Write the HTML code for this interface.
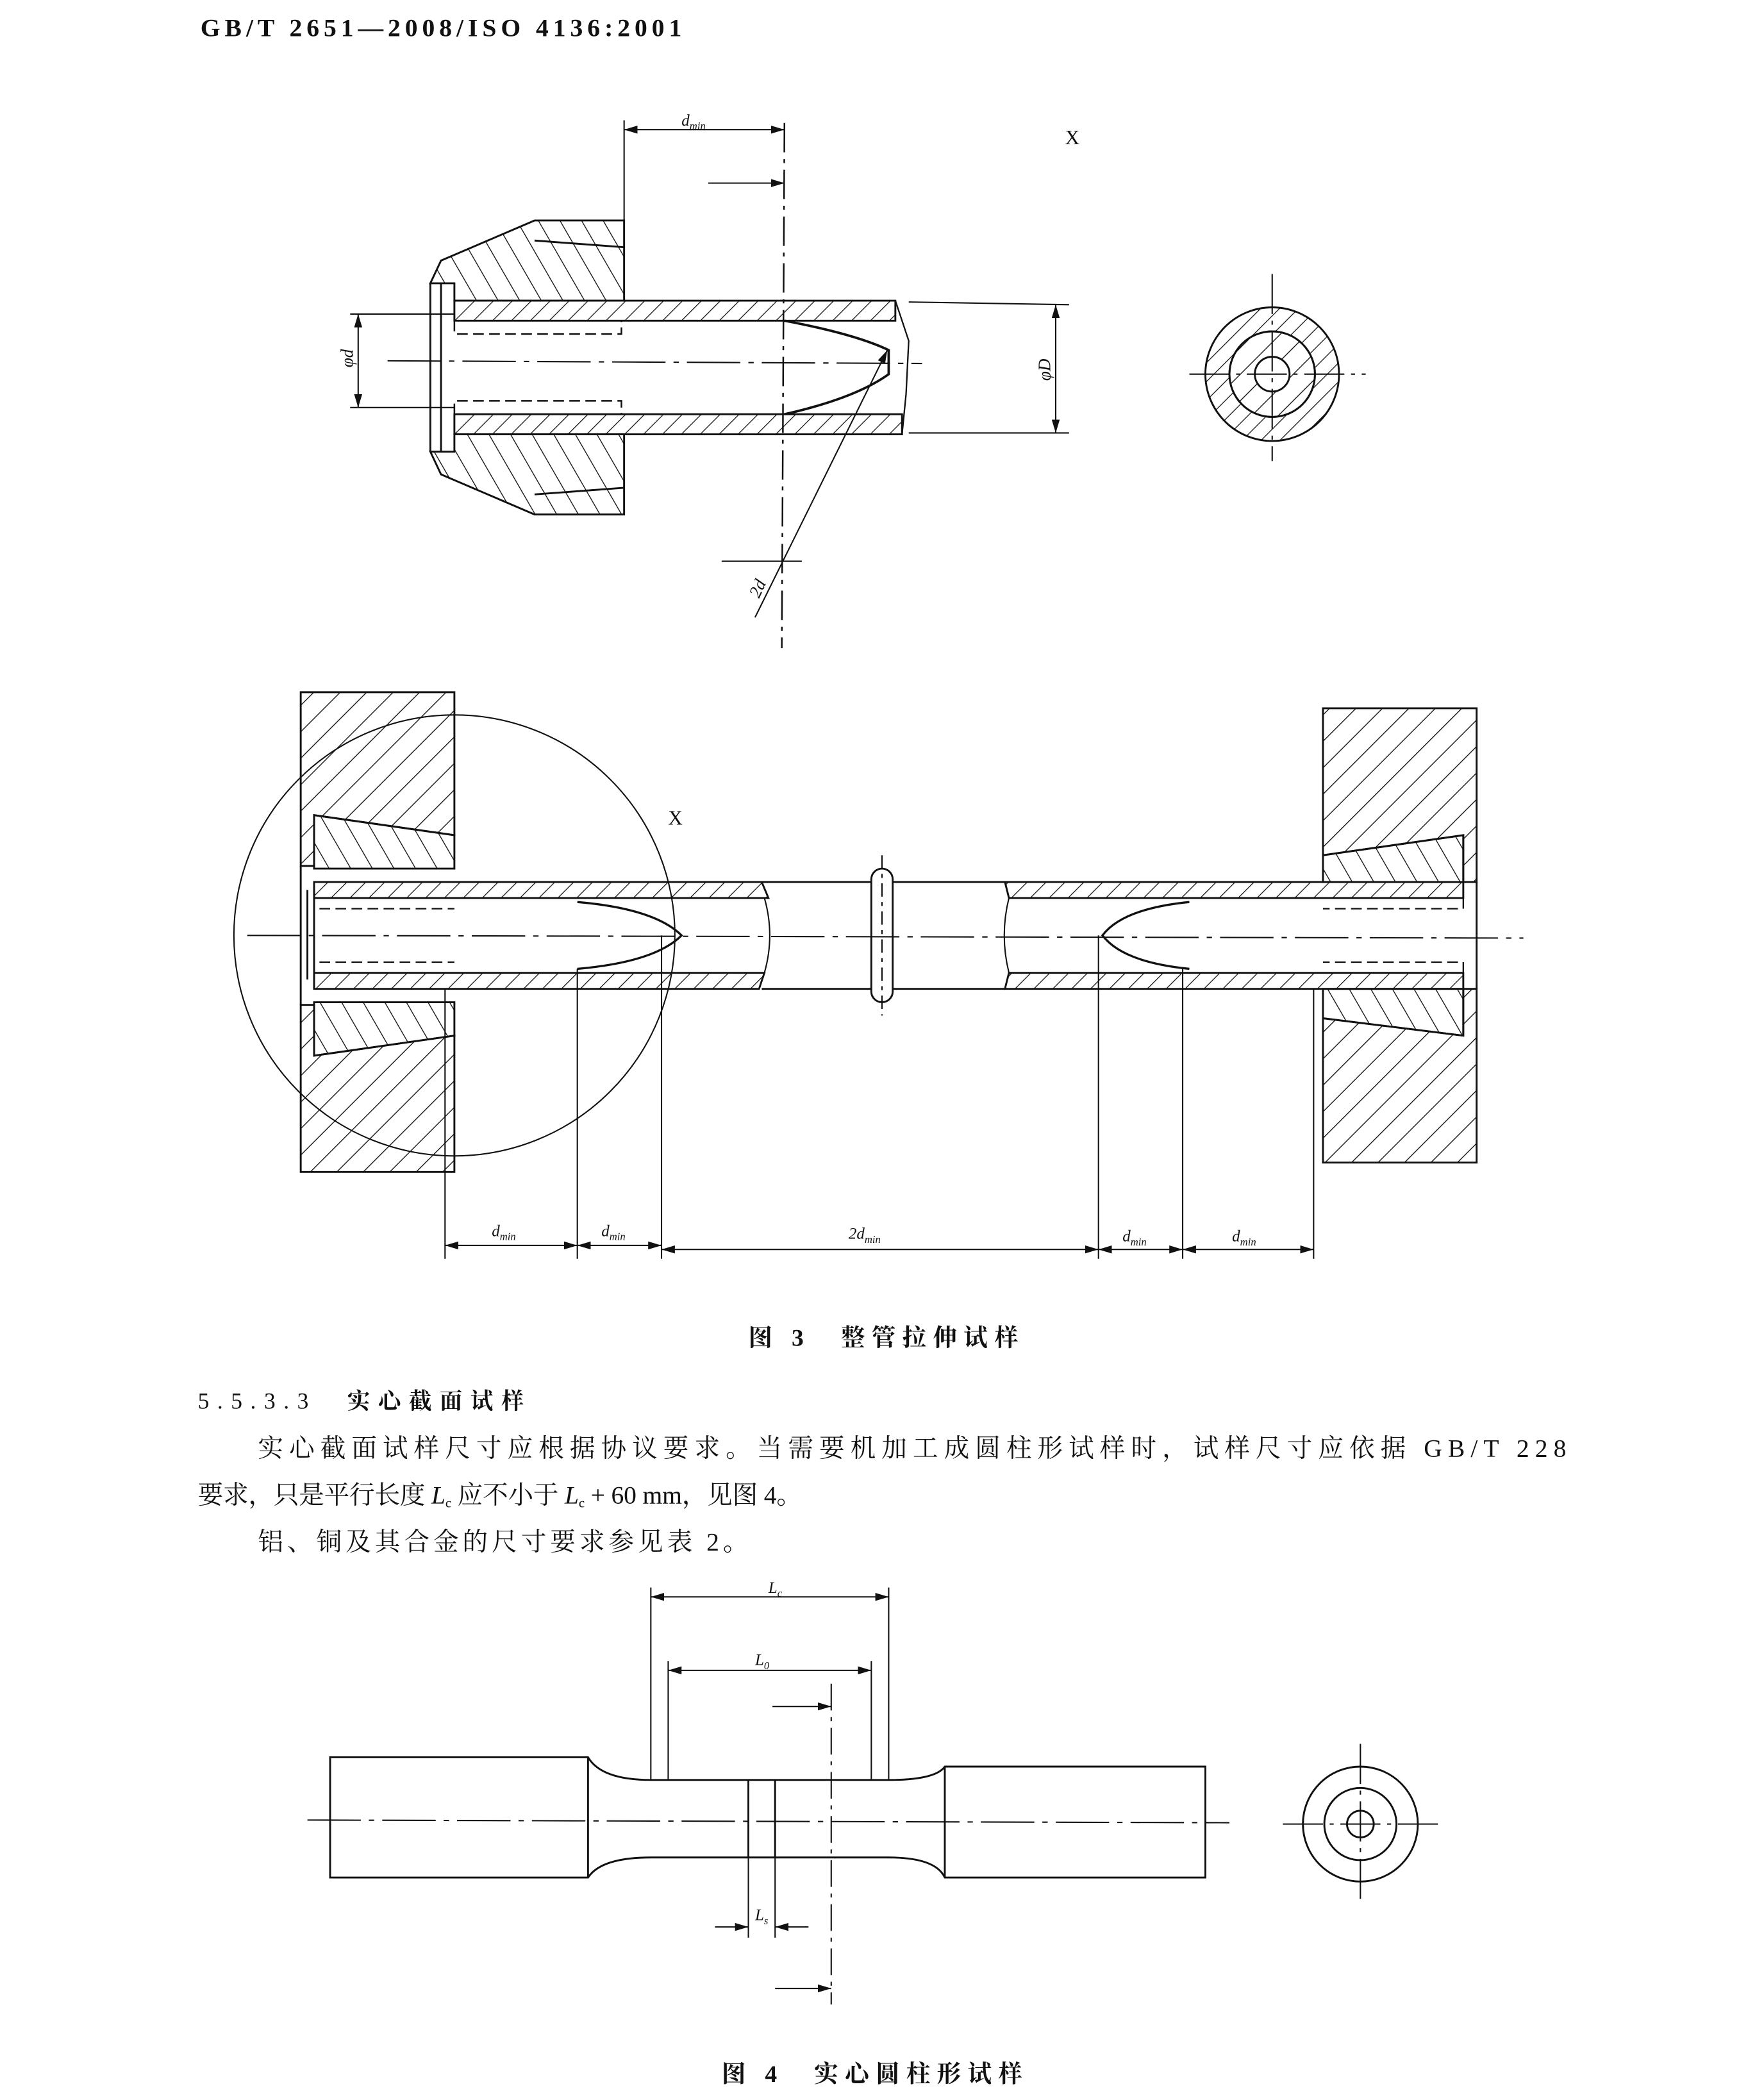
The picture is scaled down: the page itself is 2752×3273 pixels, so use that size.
<!DOCTYPE html>
<html><head><meta charset="utf-8"><style>
html,body{margin:0;padding:0;background:#fff}
svg{display:block}
text{font-family:"Liberation Serif","Noto Serif CJK SC",serif;fill:#111}
.cj{font-family:"Liberation Serif","Noto Serif CJK SC",serif}
</style></head><body>
<svg width="2752" height="3273" viewBox="0 0 1320 1570" xmlns="http://www.w3.org/2000/svg">
<defs>
<pattern id="h" width="14" height="14" patternUnits="userSpaceOnUse" patternTransform="rotate(45)">
<line x1="0" y1="0" x2="0" y2="14" stroke="#111" stroke-width="1.3"/></pattern>
<pattern id="h2" width="14" height="14" patternUnits="userSpaceOnUse" patternTransform="rotate(-30)">
<line x1="0" y1="0" x2="0" y2="14" stroke="#111" stroke-width="1.3"/></pattern>
<pattern id="h3" width="10" height="10" patternUnits="userSpaceOnUse" patternTransform="rotate(45)">
<line x1="0" y1="0" x2="0" y2="10" stroke="#111" stroke-width="1.2"/></pattern>
<marker id="a" viewBox="0 0 10 6" refX="10" refY="3" markerWidth="10" markerHeight="6" orient="auto-start-reverse" markerUnits="userSpaceOnUse"><path d="M0,0L10,3L0,6z" fill="#111"/></marker>
</defs>
<g fill="none" stroke="#111" stroke-width="1.4">
<text x="150" y="27" font-size="19" font-weight="bold" stroke="none" textLength="360" lengthAdjust="spacing">GB/T 2651—2008/ISO 4136:2001</text>

<!-- Detail X -->
<line x1="467" y1="90" x2="467" y2="165" stroke-width="1"/>
<line x1="467" y1="97" x2="587" y2="97" stroke-width="1" marker-start="url(#a)" marker-end="url(#a)"/>
<text x="510" y="94" font-size="12" font-style="italic" stroke="none">d<tspan font-size="8" dy="3">min</tspan></text>
<text x="797" y="108" font-size="15" stroke="none">X</text>
<line x1="530" y1="137" x2="587" y2="137" stroke-width="1" marker-end="url(#a)"/>
<line x1="587" y1="92" x2="585" y2="485" stroke-width="1.2" stroke-dasharray="22,5,3,5"/>
<path d="M400,165 L467,165 L467,225 L340,225 L340,212 L322,212 L330,195 Z" fill="url(#h2)"/>
<path d="M400,385 L467,385 L467,325 L340,325 L340,338 L322,338 L330,355 Z" fill="url(#h2)"/>
<line x1="400" y1="180" x2="467" y2="185"/><line x1="400" y1="370" x2="467" y2="365"/>
<path d="M322,212 L322,338 M330,212 L330,338"/>
<path d="M340,225 L670,225 L670,240 L340,240 Z" fill="url(#h3)"/>
<path d="M340,310 L675,310 L675,325 L340,325 Z" fill="url(#h3)"/>
<path d="M670,225 L680,255 L678,295 L675,325" stroke-width="1.1"/>
<path d="M340,240 V250 H465 V240 M340,310 V300 H465 V310" stroke-dasharray="8,4" stroke-width="1.2"/>
<path d="M587,240 Q640,250 665,262 L665,280 Q640,298 587,310" stroke-width="1.8"/>
<line x1="290" y1="270" x2="690" y2="272" stroke-width="1" stroke-dasharray="40,6,4,6"/>
<line x1="262" y1="235" x2="340" y2="235" stroke-width="1"/><line x1="262" y1="305" x2="340" y2="305" stroke-width="1"/>
<line x1="268" y1="235" x2="268" y2="305" stroke-width="1" marker-start="url(#a)" marker-end="url(#a)"/>
<text transform="translate(264,275) rotate(-90)" font-size="13" font-style="italic" stroke="none">φd</text>
<line x1="680" y1="226" x2="800" y2="228" stroke-width="1"/><line x1="680" y1="324" x2="800" y2="324" stroke-width="1"/>
<line x1="790" y1="228" x2="790" y2="324" stroke-width="1" marker-start="url(#a)" marker-end="url(#a)"/>
<text transform="translate(786,285) rotate(-90)" font-size="13" font-style="italic" stroke="none">φD</text>
<line x1="565" y1="462" x2="664" y2="262" stroke-width="1" marker-end="url(#a)"/>
<line x1="540" y1="420" x2="600" y2="420" stroke-width="1"/>
<text transform="translate(568,448) rotate(-65)" font-size="13" font-style="italic" stroke="none">2d</text>
<circle cx="952" cy="280" r="50" fill="url(#h3)"/>
<circle cx="952" cy="280" r="32" fill="#fff"/>
<circle cx="952" cy="280" r="32" fill="url(#h)"/>
<circle cx="952" cy="280" r="13" fill="#fff"/>
<line x1="890" y1="280" x2="1022" y2="280" stroke-width="1" stroke-dasharray="30,5,3,5"/>
<line x1="952" y1="205" x2="952" y2="345" stroke-width="1" stroke-dasharray="30,5,3,5"/>

<!-- Figure 3 main -->
<path d="M225,518 L340,518 L340,625 L235,610 L235,648 L225,648 Z" fill="url(#h)"/>
<path d="M235,610 L340,625 L340,650 L235,650 Z" fill="url(#h2)"/>
<path d="M225,877 L340,877 L340,775 L235,790 L235,752 L225,752 Z" fill="url(#h)"/>
<path d="M235,790 L340,775 L340,750 L235,750 Z" fill="url(#h2)"/>
<line x1="225" y1="648" x2="225" y2="752"/>
<path d="M1105,530 L990,530 L990,640 L1095,625 L1095,660 L1105,660 Z" fill="url(#h)"/>
<path d="M1095,625 L990,640 L990,660 L1095,660 Z" fill="url(#h2)"/>
<path d="M1105,870 L990,870 L990,762 L1095,775 L1095,740 L1105,740 Z" fill="url(#h)"/>
<path d="M1095,775 L990,762 L990,740 L1095,740 Z" fill="url(#h2)"/>
<line x1="1105" y1="660" x2="1105" y2="740"/>
<circle cx="340" cy="700" r="165" stroke-width="1"/>
<text x="500" y="617" font-size="15" stroke="none">X</text>
<path d="M235,660 L570,660 L575,672 L235,672 Z" fill="url(#h3)"/>
<path d="M235,728 L572,728 L568,740 L235,740 Z" fill="url(#h3)"/>
<path d="M752,660 L1095,660 L1095,672 L755,672 Z" fill="url(#h3)"/>
<path d="M755,728 L1095,728 L1095,740 L752,740 Z" fill="url(#h3)"/>
<path d="M570,660 H752 M570,740 H752" />
<path d="M572,672 Q580,700 572,728 M755,672 Q748,700 755,728" stroke-width="1"/>
<path d="M235,666 V733 M230,666 V733"/>
<path d="M235,672 V680 H340 M235,728 V720 H340" stroke-dasharray="8,4" stroke-width="1.1"/>
<path d="M432,675 Q490,680 510,700 Q490,720 432,725" stroke-width="1.6"/>
<path d="M890,675 Q840,680 825,700 Q840,720 890,725" stroke-width="1.6"/>
<path d="M1095,672 V680 H990 M1095,728 V720 H990" stroke-dasharray="8,4" stroke-width="1.1"/>
<rect x="652" y="650" width="16" height="100" rx="8" fill="#fff"/>
<line x1="185" y1="700" x2="1140" y2="702" stroke-width="1" stroke-dasharray="40,6,4,6"/>
<line x1="660" y1="640" x2="660" y2="760" stroke-width="1" stroke-dasharray="10,4,3,4"/>
<g stroke-width="1">
<line x1="333" y1="740" x2="333" y2="942"/><line x1="432" y1="725" x2="432" y2="942"/>
<line x1="495" y1="700" x2="495" y2="942"/><line x1="822" y1="700" x2="822" y2="942"/>
<line x1="885" y1="725" x2="885" y2="942"/><line x1="983" y1="740" x2="983" y2="942"/>
<line x1="333" y1="932" x2="432" y2="932" marker-start="url(#a)" marker-end="url(#a)"/>
<line x1="432" y1="932" x2="495" y2="932" marker-start="url(#a)" marker-end="url(#a)"/>
<line x1="495" y1="935" x2="822" y2="935" marker-start="url(#a)" marker-end="url(#a)"/>
<line x1="822" y1="935" x2="885" y2="935" marker-start="url(#a)" marker-end="url(#a)"/>
<line x1="885" y1="935" x2="983" y2="935" marker-start="url(#a)" marker-end="url(#a)"/>
</g>
<g font-size="12" font-style="italic" stroke="none">
<text x="368" y="925">d<tspan font-size="8" dy="3">min</tspan></text>
<text x="450" y="925">d<tspan font-size="8" dy="3">min</tspan></text>
<text x="635" y="927">2d<tspan font-size="8" dy="3">min</tspan></text>
<text x="840" y="929">d<tspan font-size="8" dy="3">min</tspan></text>
<text x="922" y="929">d<tspan font-size="8" dy="3">min</tspan></text>
</g>
<text x="560" y="1007" font-size="18" font-weight="bold" class="cj" stroke="none" textLength="202" lengthAdjust="spacing">图 3　整管拉伸试样</text>
<text x="148" y="1054" font-size="17" class="cj" stroke="none" textLength="244" lengthAdjust="spacing">5.5.3.3　<tspan font-weight="bold">实心截面试样</tspan></text>
<text x="193" y="1090" font-size="19" class="cj" stroke="none" textLength="979" lengthAdjust="spacing">实心截面试样尺寸应根据协议要求。当需要机加工成圆柱形试样时，试样尺寸应依据 GB/T 228</text>
<text x="148" y="1125" font-size="19" class="cj" stroke="none" textLength="452" lengthAdjust="spacing">要求，只是平行长度 <tspan font-style="italic">L</tspan><tspan font-size="10" dy="3">c</tspan><tspan dy="-3"> 应不小于 </tspan><tspan font-style="italic">L</tspan><tspan font-size="10" dy="3">c</tspan><tspan dy="-3"> + 60 mm，见图 4。</tspan></text>
<text x="193" y="1160" font-size="19" class="cj" stroke="none" textLength="367" lengthAdjust="spacing">铝、铜及其合金的尺寸要求参见表 2。</text>

<!-- Figure 4 -->
<g stroke-width="1">
<line x1="487" y1="1188" x2="487" y2="1332"/><line x1="665" y1="1188" x2="665" y2="1332"/>
<line x1="487" y1="1195" x2="665" y2="1195" marker-start="url(#a)" marker-end="url(#a)"/>
<line x1="500" y1="1243" x2="500" y2="1332"/><line x1="652" y1="1243" x2="652" y2="1332"/>
<line x1="500" y1="1250" x2="652" y2="1250" marker-start="url(#a)" marker-end="url(#a)"/>
<line x1="578" y1="1277" x2="622" y2="1277" marker-end="url(#a)"/>
<line x1="580" y1="1488" x2="622" y2="1488" marker-end="url(#a)"/>
<line x1="622" y1="1260" x2="622" y2="1500" stroke-dasharray="20,5,3,5"/>
<line x1="560" y1="1390" x2="560" y2="1450"/><line x1="580" y1="1390" x2="580" y2="1450"/>
<line x1="535" y1="1442" x2="560" y2="1442" marker-end="url(#a)"/>
<line x1="605" y1="1442" x2="580" y2="1442" marker-end="url(#a)"/>
</g>
<g font-size="12" font-style="italic" stroke="none">
<text x="575" y="1192">L<tspan font-size="8" dy="3">c</tspan></text>
<text x="565" y="1246">L<tspan font-size="8" dy="3">0</tspan></text>
<text x="565" y="1437">L<tspan font-size="8" dy="3">s</tspan></text>
</g>
<path d="M247,1315 H440 Q450,1332 487,1332 H665 Q700,1332 707,1322 H902 V1405 H707 Q700,1390 665,1390 H487 Q450,1390 440,1405 H247 Z"/>
<line x1="440" y1="1315" x2="440" y2="1405"/><line x1="707" y1="1322" x2="707" y2="1405"/>
<line x1="560" y1="1332" x2="560" y2="1390"/><line x1="580" y1="1332" x2="580" y2="1390"/>
<line x1="230" y1="1362" x2="920" y2="1364" stroke-width="1" stroke-dasharray="40,6,4,6"/>
<circle cx="1018" cy="1365" r="43"/><circle cx="1018" cy="1365" r="27"/><circle cx="1018" cy="1365" r="10"/>
<line x1="960" y1="1365" x2="1080" y2="1365" stroke-width="1" stroke-dasharray="30,5,3,5"/>
<line x1="1018" y1="1305" x2="1018" y2="1425" stroke-width="1" stroke-dasharray="30,5,3,5"/>
<text x="540" y="1558" font-size="18" font-weight="bold" class="cj" stroke="none" textLength="225" lengthAdjust="spacing">图 4　实心圆柱形试样</text>
</g>
</svg>
</body></html>
